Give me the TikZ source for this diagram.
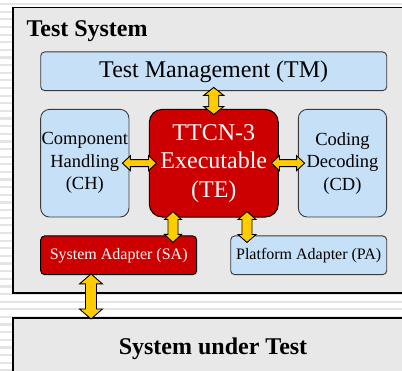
\documentclass[tikz,border=0pt]{standalone}
\usepackage{fontspec}
\setmainfont{Liberation Serif}
\usetikzlibrary{calc}

\definecolor{panelgray}{HTML}{E8E8E8}
\definecolor{stripegray}{HTML}{E4E4E4}
\definecolor{paleblue}{HTML}{C6E0F7}
\definecolor{boxred}{HTML}{CC0000}
\definecolor{arrowyellow}{HTML}{FFCC00}
\definecolor{edgegray}{HTML}{3A3A3A}

\tikzset{
  panel/.style={draw=black, line width=1.8pt, fill=panelgray},
  bluebox/.style={draw=edgegray, line width=0.9pt, fill=paleblue, inner sep=0pt,
    align=center, text=black},
  redbox/.style={draw=black, line width=1pt, fill=boxred, inner sep=0pt,
    align=center, text=white},
  linkarrow/.style={draw=black, line width=0.9pt, fill=arrowyellow, line join=miter},
}

% Block double arrow between two tips:
% #1,#2 tips, #3 half shaft width, #4 half head width, #5 head length
\newcommand\yellowlink[5]{%
  \filldraw[linkarrow] (#1)
    -- ($(#1)!#5!(#2)!#4!90:(#2)$) -- ($(#1)!#5!(#2)!#3!90:(#2)$)
    -- ($(#2)!#5!(#1)!#3!-90:(#1)$) -- ($(#2)!#5!(#1)!#4!-90:(#1)$)
    -- (#2)
    -- ($(#2)!#5!(#1)!#4!90:(#1)$) -- ($(#2)!#5!(#1)!#3!90:(#1)$)
    -- ($(#1)!#5!(#2)!#3!-90:(#2)$) -- ($(#1)!#5!(#2)!#4!-90:(#2)$)
    -- cycle;}

\begin{document}
\begin{tikzpicture}[x=1pt, y=-1pt]
  \useasboundingbox (0,0) rectangle (402,371);
  \clip (0,0) rectangle (402,371);

  % striped slide background
  \foreach \k in {0,...,48}
    \fill[stripegray] (0,{4.1+7.63*\k-1.1}) rectangle (402,{4.1+7.63*\k+1.1});

  % outer panels
  \draw[panel] (13,7.5) rectangle (412,293.3);
  \draw[panel] (13,318.3) rectangle (412,390);

  \node[anchor=base west, font=\fontsize{24}{28}\selectfont\bfseries] (tslabel)
    at (23,36.7) {Test System};
  \node[anchor=base, font=\fontsize{24}{28}\selectfont\bfseries] (sut)
    at (213,355) {System under Test};
  \coordinate (suttop) at (213,318.3);

  % components of the test system
  \node[bluebox, rounded corners=4pt, minimum width=346pt, minimum height=38.7pt,
        font=\fontsize{24}{28}\selectfont] (tm) at (213.7,71.3) {Test Management (TM)};
  \node[bluebox, rounded corners=9pt, minimum width=88.3pt, minimum height=107.7pt,
        font=\fontsize{18.5}{22.5}\selectfont] (ch) at (84.8,163.2)
        {Component\\Handling\\(CH)};
  \node[redbox, rounded corners=13pt, minimum width=129pt, minimum height=107.7pt,
        font=\fontsize{24}{28.5}\selectfont] (te) at (213.8,163.2)
        {TTCN-3\\Executable\\(TE)};
  \node[bluebox, rounded corners=9pt, minimum width=88.3pt, minimum height=107.7pt,
        font=\fontsize{18.5}{22.5}\selectfont] (cd) at (342.5,163.2)
        {Coding\\Decoding\\(CD)};
  \node[redbox, rounded corners=4pt, minimum width=156pt, minimum height=38.7pt,
        font=\fontsize{16}{19}\selectfont] (sa) at (118.7,255.3) {System Adapter (SA)};
  \node[bluebox, rounded corners=4pt, minimum width=156pt, minimum height=38.7pt,
        font=\fontsize{16}{19}\selectfont] (pa) at (308.7,255.3) {Platform Adapter (PA)};

  % arrow tips, slightly overlapping the boxes they join
  \coordinate (tmte1) at ($(tm.south)+(0,-3.7)$);
  \coordinate (tmte2) at ($(te.north)+(0,5.7)$);
  \coordinate (chte1) at ($(ch.east)+(-7,0)$);
  \coordinate (chte2) at ($(te.west)+(7.7,0)$);
  \coordinate (tecd1) at ($(te.east)+(-7.3,0)$);
  \coordinate (tecd2) at ($(cd.west)+(6.7,0)$);
  \coordinate (tesa1) at ($(te.south)+(-40.8,-6)$);
  \coordinate (tesa2) at ($(tesa1 |- sa.north)+(0,7)$);
  \coordinate (tepa1) at ($(te.south)+(33.2,-6)$);
  \coordinate (tepa2) at ($(tepa1 |- pa.north)+(0,7)$);
  \coordinate (sasut1) at ($(sa.south)+(-27.7,-1.2)$);
  \coordinate (sasut2) at ($(sasut1 |- suttop)+(0,0.7)$);

  % interfaces
  \yellowlink{tmte1}{tmte2}{5pt}{10pt}{8pt}
  \yellowlink{chte1}{chte2}{3.5pt}{7.5pt}{8pt}
  \yellowlink{tecd1}{tecd2}{3.5pt}{7.5pt}{8pt}
  \yellowlink{tesa1}{tesa2}{5pt}{8.5pt}{8pt}
  \yellowlink{tepa1}{tepa2}{5pt}{9pt}{8pt}
  \yellowlink{sasut1}{sasut2}{5.5pt}{11.5pt}{10pt}
\end{tikzpicture}
\end{document}
